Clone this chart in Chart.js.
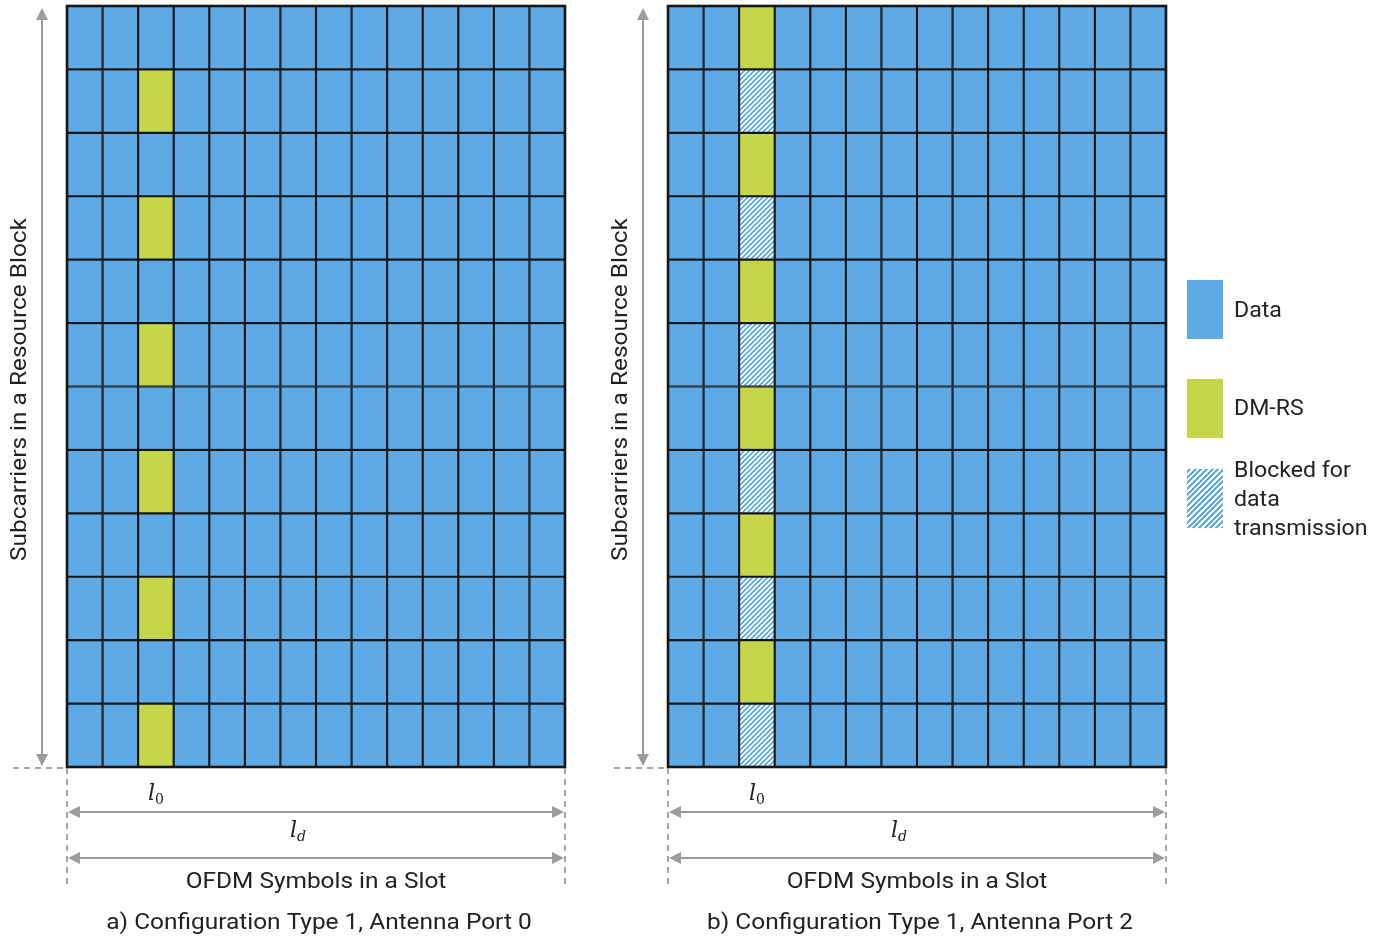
<!DOCTYPE html>
<html>
<head>
<meta charset="utf-8">
<script src="https://cdn.jsdelivr.net/npm/chart.js@4.4.1/dist/chart.umd.min.js"></script>
<style>
  body { margin: 0; background: #fff; width: 1382px; height: 938px; position: relative; overflow: hidden; font-family: Roboto, sans-serif; color: #222; }
  canvas { position: absolute; top: 0; }
  #chartA { left: 0; }
  #chartB { left: 600px; }
  .sw { position: absolute; left: 1187px; width: 36px; height: 59px; }
  .lt { position: absolute; left: 1234px; font-size: 22px; line-height: 29px; transform: scaleX(1.05); transform-origin: left top; white-space: nowrap; }
</style>
</head>
<body>
<canvas id="chartA" width="600" height="938"></canvas>
<canvas id="chartB" width="600" height="938"></canvas>

<!-- legend -->
<div class="sw" style="top:280px; background:#5DAAE6;"></div>
<div class="lt" style="top:295px;">Data</div>
<div class="sw" style="top:379px; background:#C6D64B;"></div>
<div class="lt" style="top:393px;">DM-RS</div>
<div class="sw" style="top:469px; background:repeating-linear-gradient(-45deg, #5DAAE6 0 2px, #fff 2px 4px);"></div>
<div class="lt" style="top:455px;">Blocked for<br>data<br>transmission</div>

<script>
// OFDM symbols in one slot (columns) and subcarriers in one resource block (rows)
const symbols = ['0','1','2','3','4','5','6','7','8','9','10','11','12','13'];
const subcarriers = [0,1,2,3,4,5,6,7,8,9,10,11];
const dmrsSymbol = 2; // l0

// which subcarriers carry DM-RS / are blocked, per antenna port
const port0Dmrs = [0,2,4,6,8,10];
const port0Blocked = [];
const port2Dmrs = [1,3,5,7,9,11];
const port2Blocked = [0,2,4,6,8,10];

const blue = '#5DAAE6';
const green = '#C6D64B';
const gray = '#9c9c9c';
const lineCol = '#161616';

function makeHatch() {
  const s = 5;
  const c = document.createElement('canvas');
  c.width = s; c.height = s;
  const g = c.getContext('2d');
  g.fillStyle = '#fff';
  g.fillRect(0, 0, s, s);
  g.strokeStyle = blue;
  g.lineWidth = 1.9;
  g.beginPath();
  g.moveTo(0, s); g.lineTo(s, 0);
  g.moveTo(-1, 1); g.lineTo(1, -1);
  g.moveTo(s - 1, s + 1); g.lineTo(s + 1, s - 1);
  g.stroke();
  return g.createPattern(c, 'repeat');
}
const hatch = makeHatch();

function buildDatasets(dmrs, blocked) {
  return subcarriers.map(k => ({
    label: 'Subcarrier ' + k,
    data: symbols.map(() => 1),
    backgroundColor: symbols.map((s, i) => {
      if (i !== dmrsSymbol) return blue;
      if (dmrs.includes(k)) return green;
      if (blocked.includes(k)) return hatch;
      return blue;
    }),
    borderColor: lineCol,
    borderWidth: 1.4,
    borderSkipped: false,
    barPercentage: 1,
    categoryPercentage: 1
  }));
}

function arrowHead(ctx, x, y, dx, dy) {
  const len = 12, w = 6;
  const px = -dy, py = dx;
  ctx.beginPath();
  ctx.moveTo(x, y);
  ctx.lineTo(x - dx * len + px * w, y - dy * len + py * w);
  ctx.lineTo(x - dx * len - px * w, y - dy * len - py * w);
  ctx.closePath();
  ctx.fill();
}

function dblArrow(ctx, x1, y1, x2, y2) {
  const d = Math.hypot(x2 - x1, y2 - y1);
  const dx = (x2 - x1) / d, dy = (y2 - y1) / d;
  ctx.beginPath();
  ctx.moveTo(x1 + dx * 6, y1 + dy * 6);
  ctx.lineTo(x2 - dx * 6, y2 - dy * 6);
  ctx.stroke();
  arrowHead(ctx, x2, y2, dx, dy);
  arrowHead(ctx, x1, y1, -dx, -dy);
}

function mathLabel(ctx, x, y, sub) {
  ctx.textAlign = 'left';
  ctx.textBaseline = 'alphabetic';
  ctx.font = 'italic 22px "DejaVu Serif", serif';
  const w = ctx.measureText('l').width;
  ctx.fillText('l', x - 8, y);
  ctx.font = (sub === 'd' ? 'italic ' : '') + '14px "DejaVu Serif", serif';
  ctx.fillText(sub, x - 8 + w, y + 4);
}

// text drawn slightly widened, like the source figure
function wideText(ctx, text, x, y, angle) {
  ctx.save();
  ctx.translate(x, y);
  if (angle) ctx.rotate(angle);
  ctx.scale(1.11, 1);
  ctx.fillText(text, 0, 0);
  ctx.restore();
}

const gridDecor = {
  id: 'gridDecor',
  afterDatasetsDraw(chart) {
    const { ctx, chartArea: a } = chart;
    ctx.save();
    ctx.strokeStyle = lineCol;
    ctx.lineWidth = 2.6;
    ctx.strokeRect(a.left, a.top, a.right - a.left, a.bottom - a.top);
    ctx.restore();
  },
  afterDraw(chart, args, opts) {
    const { ctx, chartArea: a, scales: { x } } = chart;
    const cx = (a.left + a.right) / 2;
    ctx.save();

    // dashed guides
    ctx.strokeStyle = '#8a8a8a';
    ctx.lineWidth = 1.5;
    ctx.setLineDash([6, 5]);
    ctx.beginPath();
    ctx.moveTo(a.left - 54, a.bottom + 1); ctx.lineTo(a.left, a.bottom + 1);
    ctx.moveTo(a.left, a.bottom + 1); ctx.lineTo(a.left, a.bottom + 117);
    ctx.moveTo(a.right, a.bottom + 1); ctx.lineTo(a.right, a.bottom + 117);
    ctx.stroke();
    ctx.setLineDash([]);

    // arrows
    ctx.strokeStyle = gray;
    ctx.fillStyle = gray;
    ctx.lineWidth = 2;
    dblArrow(ctx, a.left - 25, a.top + 2, a.left - 25, a.bottom - 1);
    dblArrow(ctx, a.left + 1, a.bottom + 45, a.right - 1, a.bottom + 45);
    dblArrow(ctx, a.left + 1, a.bottom + 91, a.right - 1, a.bottom + 91);

    // l0, ld
    ctx.fillStyle = '#222';
    mathLabel(ctx, x.getPixelForValue(dmrsSymbol), a.bottom + 33, '0');
    mathLabel(ctx, cx - 18, a.bottom + 70, 'd');

    // axis texts and caption
    ctx.font = '22px Roboto, sans-serif';
    ctx.textAlign = 'center';
    ctx.textBaseline = 'middle';
    wideText(ctx, 'OFDM Symbols in a Slot', cx, a.bottom + 115);
    wideText(ctx, opts.caption, cx + 3, a.bottom + 156);
    wideText(ctx, 'Subcarriers in a Resource Block', a.left - 47, (a.top + a.bottom) / 2 + 3, -Math.PI / 2);
    ctx.restore();
  }
};

function makeChart(id, padLeft, dmrs, blocked, caption) {
  return new Chart(document.getElementById(id), {
    type: 'bar',
    data: { labels: symbols, datasets: buildDatasets(dmrs, blocked) },
    options: {
      responsive: false,
      animation: false,
      layout: { padding: { left: padLeft, top: 6, right: 600 - padLeft - 498, bottom: 938 - 767 } },
      plugins: {
        legend: { display: false },
        tooltip: { enabled: false },
        gridDecor: { caption: caption }
      },
      scales: {
        x: { stacked: true, display: false },
        y: { stacked: true, display: false, min: 0, max: subcarriers.length }
      }
    },
    plugins: [gridDecor]
  });
}

makeChart('chartA', 67, port0Dmrs, port0Blocked, 'a) Configuration Type 1, Antenna Port 0');
makeChart('chartB', 68, port2Dmrs, port2Blocked, 'b) Configuration Type 1, Antenna Port 2');
</script>
</body>
</html>
